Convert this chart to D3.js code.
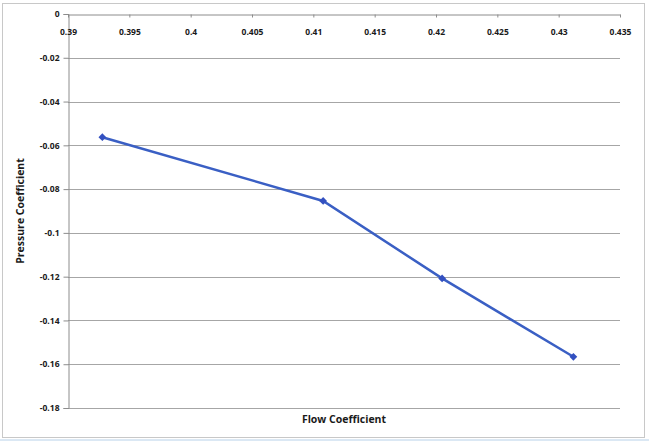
<!DOCTYPE html>
<html>
<head>
<meta charset="utf-8">
<script src="https://cdn.jsdelivr.net/npm/d3@7"></script>
<style>
  html, body { margin: 0; padding: 0; background: #fff; }
  svg text { font-family: "Open Sans", "DejaVu Sans", sans-serif; font-weight: 700; fill: #1a1a1a; }
</style>
</head>
<body>
<div id="chart"></div>
<script>
// data
const flowCoef = [0.3928, 0.4108, 0.4205, 0.4312];
const pressureCoef = [-0.0563, -0.0854, -0.1208, -0.1566];
const xTicks = [0.39, 0.395, 0.4, 0.405, 0.41, 0.415, 0.42, 0.425, 0.43, 0.435];
const yTicks = [0, -0.02, -0.04, -0.06, -0.08, -0.1, -0.12, -0.14, -0.16, -0.18];

const W = 649, H = 441;
const plot = { left: 68, right: 620, top: 14, bottom: 408 };

const svg = d3.select('#chart').append('svg')
  .attr('width', W).attr('height', H);

// outer frame
svg.append('rect')
  .attr('x', 2.5).attr('y', 3.5)
  .attr('width', 642).attr('height', 434)
  .attr('fill', '#fff').attr('stroke', '#c8c8c8');
svg.append('line')
  .attr('x1', 0).attr('x2', W).attr('y1', 440).attr('y2', 440)
  .attr('stroke', '#cfe0f0').attr('stroke-width', 1.5);

const x = d3.scaleLinear().domain([0.39, 0.435]).range([plot.left, plot.right]);
const y = d3.scaleLinear().domain([0, -0.18]).range([plot.top, plot.bottom]);

// gridlines
svg.append('g')
  .selectAll('line')
  .data(yTicks.filter(d => d !== 0))
  .enter().append('line')
  .attr('x1', plot.left).attr('x2', plot.right)
  .attr('y1', d => Math.round(y(d)) + 0.5)
  .attr('y2', d => Math.round(y(d)) + 0.5)
  .attr('stroke', '#a6a6a6');

// y axis
const yAxis = svg.append('g')
  .attr('transform', `translate(${plot.left + 0.5},0)`)
  .call(d3.axisLeft(y).tickValues(yTicks).tickSize(5).tickPadding(4)
    .tickFormat(d => d === 0 ? '0' : String(+d.toFixed(2))));
yAxis.select('.domain').attr('stroke', '#8c8c8c');
yAxis.selectAll('.tick line').attr('stroke', '#8c8c8c');
yAxis.selectAll('text').style('font-size', '8.5px');

// x axis sits at y = 0, labels below it
const xAxis = svg.append('g')
  .attr('transform', `translate(0,${plot.top + 0.5})`)
  .call(d3.axisBottom(x).tickValues(xTicks).tickSize(3).tickSizeOuter(0).tickPadding(11)
    .tickFormat(d => String(+d.toFixed(3))));
xAxis.select('.domain').attr('stroke', '#8c8c8c');
xAxis.selectAll('.tick line').attr('stroke', '#8c8c8c');
xAxis.selectAll('text').style('font-size', '8.5px');

// series line
const pts = flowCoef.map((f, i) => [f, pressureCoef[i]]);
svg.append('path')
  .datum(pts)
  .attr('fill', 'none')
  .attr('stroke', '#3a5fc4')
  .attr('stroke-width', 2.5)
  .attr('d', d3.line().x(d => x(d[0])).y(d => y(d[1])));

// diamond markers (square turned 45 degrees)
svg.append('g')
  .selectAll('path')
  .data(pts)
  .enter().append('path')
  .attr('transform', d => `translate(${x(d[0])},${y(d[1])}) rotate(45)`)
  .attr('d', d3.symbol().type(d3.symbolSquare).size(30))
  .attr('fill', '#3350c0');

// axis titles
svg.append('text')
  .attr('x', (plot.left + plot.right) / 2)
  .attr('y', 423)
  .attr('text-anchor', 'middle')
  .style('font-size', '10.5px')
  .text('Flow Coefficient');

svg.append('text')
  .attr('transform', `translate(24,${(plot.top + plot.bottom) / 2}) rotate(-90)`)
  .attr('text-anchor', 'middle')
  .style('font-size', '10.5px')
  .text('Pressure Coefficient');
</script>
</body>
</html>
